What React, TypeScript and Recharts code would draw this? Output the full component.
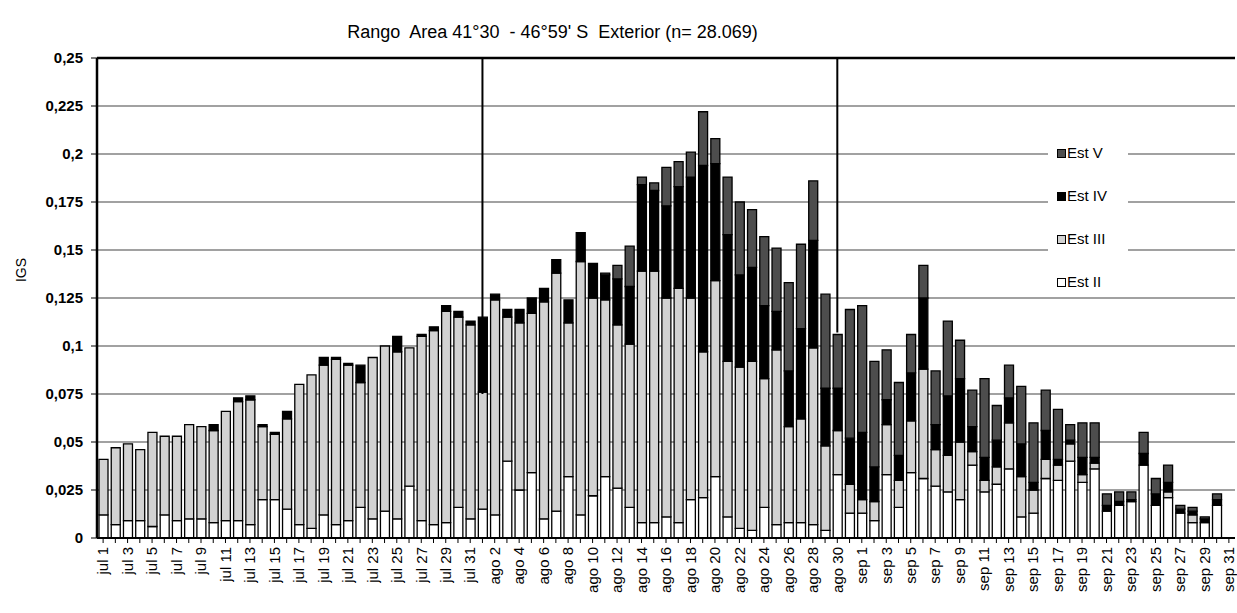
import React from 'react';
import {
  BarChart,
  Bar,
  XAxis,
  YAxis,
  CartesianGrid,
  ReferenceLine,
  Legend,
  Label,
} from 'recharts';

// categories: jul 1 .. sep 31 (as in the original sheet)
const months = ['jul', 'ago', 'sep'];
const daysPerMonth = 31;
const days: string[] = [];
months.forEach(m => {
  for (let d = 1; d <= daysPerMonth; d++) days.push(`${m} ${d}`);
});

// IGS per stage
const estII = [
  0.012, 0.007, 0.009, 0.009, 0.006, 0.012, 0.009, 0.010, 0.010, 0.008, 0.009, 0.009, 0.007, 0.020, 0.020, 0.015,
  0.007, 0.005, 0.012, 0.007, 0.009, 0.016, 0.010, 0.014, 0.010, 0.027, 0.009, 0.007, 0.008, 0.016, 0.010,
  0.015, 0.012, 0.040, 0.025, 0.034, 0.010, 0.014, 0.032, 0.012, 0.022, 0.032, 0.026, 0.016, 0.008, 0.008, 0.011,
  0.008, 0.020, 0.021, 0.032, 0.011, 0.005, 0.004, 0.016, 0.007, 0.008, 0.008, 0.007, 0.004, 0.033, 0.013,
  0.013, 0.009, 0.033, 0.016, 0.034, 0.031, 0.027, 0.024, 0.020, 0.038, 0.024, 0.028, 0.036, 0.011, 0.013, 0.031,
  0.030, 0.040, 0.029, 0.036, 0.014, 0.017, 0.019, 0.038, 0.017, 0.021, 0.013, 0.008, 0.008, 0.017, 0,
];
const estIII = [
  0.029, 0.040, 0.040, 0.037, 0.049, 0.041, 0.044, 0.049, 0.048, 0.048, 0.057, 0.062, 0.065, 0.038, 0.034, 0.047,
  0.073, 0.080, 0.078, 0.086, 0.081, 0.065, 0.084, 0.086, 0.087, 0.072, 0.096, 0.101, 0.110, 0.099, 0.101,
  0.061, 0.112, 0.075, 0.087, 0.083, 0.113, 0.124, 0.080, 0.132, 0.103, 0.092, 0.085, 0.085, 0.131, 0.131, 0.114,
  0.122, 0.105, 0.076, 0.102, 0.081, 0.084, 0.088, 0.067, 0.091, 0.050, 0.054, 0.092, 0.044, 0.023, 0.015,
  0.007, 0.010, 0.026, 0.014, 0.027, 0.057, 0.019, 0.019, 0.030, 0.007, 0.006, 0.009, 0.024, 0.021, 0.012, 0.010,
  0.008, 0.009, 0.004, 0.003, 0, 0, 0, 0, 0, 0.003, 0, 0.004, 0, 0, 0,
];
const estIV = [
  0, 0, 0, 0, 0, 0, 0, 0, 0, 0.003, 0, 0.002, 0.002, 0.001, 0.001, 0.004,
  0, 0, 0.004, 0.001, 0.001, 0.009, 0, 0, 0.008, 0, 0.001, 0.002, 0.003, 0.003, 0.002,
  0.039, 0.003, 0.004, 0.007, 0.008, 0.007, 0.007, 0.012, 0.015, 0.018, 0.013, 0.024, 0.030, 0.045, 0.042, 0.048,
  0.053, 0.063, 0.097, 0.061, 0.066, 0.048, 0.049, 0.038, 0.020, 0.029, 0.047, 0.056, 0.030, 0.022, 0.024,
  0.035, 0.018, 0.013, 0.013, 0.025, 0.037, 0.013, 0.031, 0.033, 0.013, 0.012, 0.014, 0.013, 0.017, 0.004, 0.015,
  0.003, 0.002, 0.009, 0.003, 0.003, 0.002, 0.001, 0.006, 0.006, 0.005, 0.002, 0.002, 0.002, 0.003, 0,
];
const estV = [
  0, 0, 0, 0, 0, 0, 0, 0, 0, 0, 0, 0, 0, 0, 0, 0,
  0, 0, 0, 0, 0, 0, 0, 0, 0, 0, 0, 0, 0, 0, 0,
  0, 0, 0, 0, 0, 0, 0, 0, 0, 0, 0.001, 0.007, 0.021, 0.004, 0.004, 0.020,
  0.013, 0.013, 0.028, 0.013, 0.030, 0.038, 0.030, 0.036, 0.033, 0.046, 0.044, 0.031, 0.049, 0.028, 0.067,
  0.066, 0.055, 0.026, 0.038, 0.020, 0.017, 0.028, 0.039, 0.020, 0.019, 0.041, 0.018, 0.017, 0.030, 0.031, 0.021,
  0.026, 0.008, 0.018, 0.018, 0.006, 0.005, 0.004, 0.011, 0.008, 0.009, 0.002, 0.002, 0.001, 0.003, 0,
];

const yTicks = [0, 0.025, 0.05, 0.075, 0.1, 0.125, 0.15, 0.175, 0.2, 0.225, 0.25];

const series = [
  { key: 'Est V', fill: '#4d4d4d' },
  { key: 'Est IV', fill: '#000000' },
  { key: 'Est III', fill: '#d2d2d2' },
  { key: 'Est II', fill: '#ffffff' },
];

const data = days.map((day, i) => ({
  day,
  'Est II': estII[i],
  'Est III': estIII[i],
  'Est IV': estIV[i],
  'Est V': estV[i],
}));

const FONT = '"Liberation Sans", Arial, sans-serif';

const XTick = (props: any) => {
  const { x, y, payload } = props;
  if (payload.index % 2 !== 0) return null;
  return (
    <text
      x={x}
      y={y + 2}
      transform={`rotate(-90 ${x} ${y + 2})`}
      textAnchor="end"
      dy="0.35em"
      fontSize={15}
      fontFamily={FONT}
      fill="#000"
    >
      {payload.value}
    </text>
  );
};

const LegendBox = () => (
  <div style={{ fontFamily: FONT, fontSize: 15, color: '#000' }}>
    {series.map((s, i) => (
      <div
        key={s.key}
        style={{ position: 'absolute', left: 9, top: 7 + i * 43, height: 17, lineHeight: '17px', whiteSpace: 'nowrap' }}
      >
        <span
          style={{
            display: 'inline-block',
            width: 7,
            height: 7,
            border: '1.5px solid #000',
            background: s.fill,
            marginRight: 1,
            verticalAlign: 'middle',
            position: 'relative',
            top: -1,
          }}
        />
        {s.key}
      </div>
    ))}
  </div>
);

export default function App() {
  return (
    <div
      style={{
        position: 'absolute',
        left: 0,
        top: 0,
        width: 1237,
        height: 613,
        overflow: 'hidden',
        background: '#fff',
        fontFamily: FONT,
      }}
    >
      <div
        style={{
          position: 'absolute',
          left: 0,
          top: 22,
          width: 1105,
          textAlign: 'center',
          fontSize: 18,
          lineHeight: '20px',
          whiteSpace: 'pre',
        }}
      >
        {"Rango  Area 41°30  - 46°59' S  Exterior (n= 28.069)"}
      </div>
      <BarChart
        width={1243}
        height={613}
        data={data}
        margin={{ top: 58, right: 8, left: 0, bottom: 5 }}
      >
        <CartesianGrid horizontal vertical={false} stroke="#444" strokeWidth={1.2} />
        <XAxis
          dataKey="day"
          interval={0}
          height={70}
          tickSize={5}
          tickLine={{ stroke: '#000' }}
          axisLine={{ stroke: '#000', strokeWidth: 2 }}
          tick={<XTick />}
        />
        <YAxis
          width={97}
          domain={[0, 0.25]}
          ticks={yTicks}
          tickFormatter={(v: number) => String(v).replace('.', ',')}
          tick={{ fontSize: 15, fontWeight: 'bold', fill: '#000', fontFamily: FONT }}
          tickSize={6}
          tickMargin={8}
          tickLine={{ stroke: '#000' }}
          axisLine={{ stroke: '#000', strokeWidth: 2.5 }}
        >
          <Label
            content={() => (
              <text
                x={26}
                y={270}
                transform="rotate(-90 26 270)"
                textAnchor="middle"
                fontSize={14}
                fontFamily={FONT}
                fill="#000"
              >
                IGS
              </text>
            )}
          />
        </YAxis>
        <Legend
          layout="vertical"
          align="center"
          verticalAlign="middle"
          content={<LegendBox />}
          wrapperStyle={{ left: 1048, top: 137, width: 80, height: 156, backgroundColor: '#fff' }}
        />
        {['Est II', 'Est III', 'Est IV', 'Est V'].map(k => (
          <Bar
            key={k}
            dataKey={k}
            stackId="a"
            fill={series.find(s => s.key === k)!.fill}
            stroke="#000"
            strokeWidth={1.3}
            barSize={9}
            isAnimationActive={false}
          />
        ))}
        <ReferenceLine y={0.25} stroke="#000" strokeWidth={2.5} />
        <ReferenceLine
          segment={[{ x: 'ago 1', y: 0.25 }, { x: 'ago 1', y: 0.075 }]}
          stroke="#000"
          strokeWidth={2}
        />
        <ReferenceLine
          segment={[{ x: 'ago 30', y: 0.25 }, { x: 'ago 30', y: 0.107 }]}
          stroke="#000"
          strokeWidth={2}
        />
      </BarChart>
    </div>
  );
}
